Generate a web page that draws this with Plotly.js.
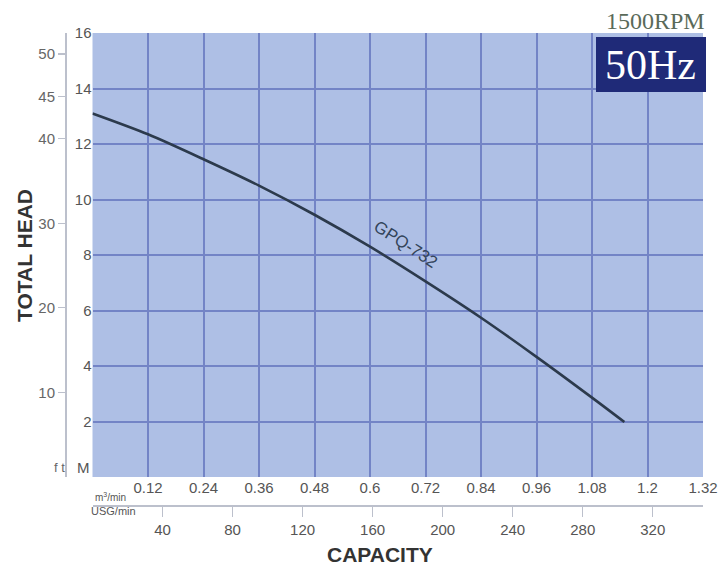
<!DOCTYPE html>
<html>
<head>
<meta charset="utf-8">
<script src="https://cdn.plot.ly/plotly-3.0.1.min.js"></script>
<style>html,body{margin:0;padding:0;background:#fff;}#chart{width:723px;height:569px;}</style>
</head>
<body>
<div id="chart"></div>
<script>
// Pump curve GPQ-732 (capacity m3/min, total head m)
const flowM3 = [0, 0.12, 0.24, 0.36, 0.48, 0.6, 0.72, 0.84, 0.96, 1.08, 1.15];
const headM  = [13.1, 12.35, 11.45, 10.5, 9.45, 8.3, 7.05, 5.74, 4.33, 2.86, 1.98];
const seriesName = "GPQ-732";

const m3Ticks = [0.12, 0.24, 0.36, 0.48, 0.6, 0.72, 0.84, 0.96, 1.08, 1.2, 1.32];
const m3TickText = ["0.12", "0.24", "0.36", "0.48", "0.6", "0.72", "0.84", "0.96", "1.08", "1.2", "1.32"];
const meterTicks = [2, 4, 6, 8, 10, 12, 14, 16];
const ftTicks = [10, 20, 30, 40, 45, 50];
const usgTicks = [40, 80, 120, 160, 200, 240, 280, 320];

const M_TO_FT = 3.28084;
const M3_TO_USG = 264.172;
const xMax = 1.32, yMax = 16;

const W = 723, H = 569;
const mL = 40, mR = 20, mT = 33, mB = 40;
const pw = W - mL - mR, ph = H - mT - mB;
const px = v => (v - mL) / pw;
const py = v => (H - mB - v) / ph;

const plotLeft = 92.5, plotBottom = 477;
const sans = "Liberation Sans, Arial, sans-serif";
const serif = "Liberation Serif, Times New Roman, serif";
const tickFont = {family: sans, size: 15, color: "#555"};

const curve = {
  x: flowM3, y: headM, type: "scatter", mode: "lines",
  line: {color: "#2c3a4c", width: 2.6, shape: "spline", smoothing: 0.8},
  name: seriesName, hoverinfo: "x+y", showlegend: false
};
// same curve expressed in US gallons/min, drawn invisibly so the USG axis exists
const curveUSG = {
  x: flowM3.map(v => v * M3_TO_USG), y: headM, xaxis: "x2", yaxis: "y",
  type: "scatter", mode: "lines", line: {width: 0, color: "rgba(0,0,0,0)"},
  hoverinfo: "skip", showlegend: false
};
// same curve expressed in feet, drawn invisibly so the ft axis exists
const curveFt = {
  x: flowM3, y: headM.map(v => v * M_TO_FT), xaxis: "x", yaxis: "y2",
  type: "scatter", mode: "lines", line: {width: 0, color: "rgba(0,0,0,0)"},
  hoverinfo: "skip", showlegend: false
};

function ann(text, x, y, font, extra) {
  return Object.assign({text, xref: "paper", yref: "paper", x: px(x), y: py(y),
    xanchor: "center", yanchor: "middle", showarrow: false, font}, extra || {});
}

const layout = {
  width: W, height: H,
  margin: {l: mL, r: mR, t: mT, b: mB},
  paper_bgcolor: "#ffffff",
  plot_bgcolor: "#aebfe5",
  showlegend: false,
  xaxis: {
    domain: [px(plotLeft), 1],
    range: [0, xMax],
    tickvals: m3Ticks, ticktext: m3TickText,
    showgrid: true, gridcolor: "#7384c6", gridwidth: 2,
    zeroline: false, showline: false, ticks: "",
    tickfont: tickFont, fixedrange: true
  },
  yaxis: {
    domain: [py(plotBottom), 1],
    range: [0, yMax],
    tickvals: meterTicks,
    showgrid: true, gridcolor: "#7384c6", gridwidth: 2,
    zeroline: false, showline: false, ticks: "",
    tickfont: tickFont, fixedrange: true
  },
  yaxis2: {
    overlaying: "y", anchor: "free", side: "left", position: px(65),
    range: [0, yMax * M_TO_FT],
    tickvals: ftTicks,
    showgrid: false, zeroline: false,
    showline: true, linecolor: "#bcc0cc", linewidth: 1.5,
    ticks: "outside", ticklen: 7, tickcolor: "#bcc0cc", tickwidth: 1.2,
    tickfont: {family: sans, size: 15, color: "#666"},
    fixedrange: true
  },
  xaxis2: {
    overlaying: "x", anchor: "free", side: "bottom", position: py(505),
    range: [0, xMax * M3_TO_USG],
    tickvals: usgTicks,
    showgrid: false, zeroline: false,
    showline: true, linecolor: "#bcc0cc", linewidth: 1.5,
    ticks: "outside", ticklen: 10, tickcolor: "#bcc0cc", tickwidth: 1.2,
    tickfont: tickFont, fixedrange: true
  },
  shapes: [
    {type: "rect", xref: "paper", yref: "paper",
     x0: px(596), x1: px(706), y0: py(92), y1: py(37),
     fillcolor: "#1f2a78", line: {width: 0}}
  ],
  annotations: [
    ann("TOTAL HEAD", 24, 256, {family: sans, size: 21, color: "#333", weight: "bold"}, {textangle: -90}),
    ann("CAPACITY", 380, 554, {family: sans, size: 21, color: "#333", weight: "bold"}),
    ann("f t", 59, 467, {family: sans, size: 13, color: "#666"}),
    ann("M", 83, 467, {family: sans, size: 15, color: "#555"}),
    ann("m<sup>3</sup>/min", 110, 497, {family: sans, size: 10, color: "#555"}),
    ann("USG/min", 113, 511, {family: sans, size: 11, color: "#555"}),
    ann("1500RPM", 655, 21, {family: serif, size: 24, color: "#5a6a5a"}),
    ann("50Hz", 650, 65, {family: serif, size: 42, color: "#ffffff"}),
    ann(seriesName, 406, 244, {family: sans, size: 17, color: "#33445a"}, {textangle: 33})
  ]
};

Plotly.newPlot("chart", [curve, curveUSG, curveFt], layout, {displayModeBar: false, staticPlot: true});
</script>
</body>
</html>
